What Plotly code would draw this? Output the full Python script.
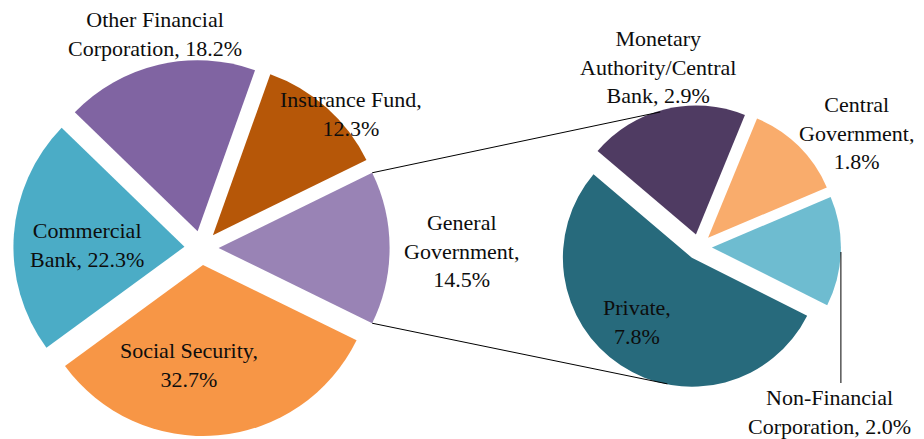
import math
import plotly.graph_objects as go

W, H = 924, 439

# main pie (share of total, %)
main_labels = ["General Government", "Social Security", "Commercial Bank",
               "Other Financial Corporation", "Insurance Fund"]
main_values = [14.5, 32.7, 22.3, 18.2, 12.3]
main_colors = ["#9983B5", "#F79646", "#4BACC6", "#8064A2", "#B65708"]

# breakdown of General Government (%)
sub_labels = ["Non-Financial Corporation", "Private",
              "Monetary Authority/Central Bank", "Central Government"]
sub_values = [2.0, 7.8, 2.9, 1.8]
sub_colors = ["#6EBCD0", "#276A7C", "#4F3B62", "#F9AC6C"]

PULL = 0.1
FONT = "Liberation Serif, Times New Roman, serif"

# pie geometry in pixels: centre and radius
main_cx, main_cy, main_r = 201.5, 248, 171
sub_cx, sub_cy, sub_r = 699, 247, 129


def px(x, y):
    return x / W, 1 - y / H


def domain(cx, cy, r):
    half = r * (1 + PULL)
    x0, y0 = px(cx - half, cy + half)
    x1, y1 = px(cx + half, cy - half)
    return dict(x=[x0, x1], y=[y0, y1])


fig = go.Figure()

# first slice (General Government) centred on 3 o'clock
gg_half = 360 * main_values[0] / sum(main_values) / 2
fig.add_trace(go.Pie(
    labels=main_labels, values=main_values, sort=False,
    direction="clockwise", rotation=90 - gg_half,
    marker=dict(colors=main_colors, line=dict(width=0)),
    pull=[PULL] * len(main_values), textinfo="none", hoverinfo="label+value",
    domain=domain(main_cx, main_cy, main_r), showlegend=False,
))

fig.add_trace(go.Pie(
    labels=sub_labels, values=sub_values, sort=False,
    direction="clockwise", rotation=67,
    marker=dict(colors=sub_colors, line=dict(width=0)),
    pull=[PULL] * len(sub_values), textinfo="none", hoverinfo="label+value",
    domain=domain(sub_cx, sub_cy, sub_r), showlegend=False,
))

# connector lines from the General Government slice to the second pie
a = math.radians(gg_half)
tip_x = main_cx + PULL * main_r
shapes = []
for sign, ang in [(1, 106), (-1, 257)]:
    x0 = tip_x + main_r * math.cos(a)
    y0 = main_cy - sign * main_r * math.sin(a)
    rr = sub_r * (1 + PULL) * 0.99
    x1 = sub_cx + rr * math.cos(math.radians(ang))
    y1 = sub_cy - rr * math.sin(math.radians(ang))
    shapes.append(dict(type="line", xref="paper", yref="paper",
                       x0=px(x0, y0)[0], y0=px(x0, y0)[1],
                       x1=px(x1, y1)[0], y1=px(x1, y1)[1],
                       line=dict(color="black", width=1)))

# leader line for the Non-Financial Corporation label
lx = sub_cx + sub_r * (1 + PULL)
shapes.append(dict(type="line", xref="paper", yref="paper",
                   x0=px(lx, 252)[0], y0=px(lx, 252)[1],
                   x1=px(lx, 383)[0], y1=px(lx, 383)[1],
                   line=dict(color="black", width=1)))

# data labels (text, pixel position)
label_pos = [
    ("Other Financial<br>Corporation, 18.2%", 155, 34),
    ("Insurance Fund,<br>12.3%", 351, 114),
    ("Commercial<br>Bank, 22.3%", 87, 245),
    ("Social Security,<br>32.7%", 189, 365),
    ("General<br>Government,<br>14.5%", 461, 251),
    ("Monetary<br>Authority/Central<br>Bank, 2.9%", 658, 67),
    ("Central<br>Government,<br>1.8%", 856, 133),
    ("Private,<br>7.8%", 637, 322),
    ("Non-Financial<br>Corporation, 2.0%", 829, 412),
]
annotations = []
for text, x, y in label_pos:
    xp, yp = px(x, y)
    annotations.append(dict(text=text, x=xp, y=yp, xref="paper", yref="paper",
                            showarrow=False, xanchor="center", yanchor="middle",
                            align="center",
                            font=dict(family=FONT, size=22, color="#0D0D0D")))

fig.update_layout(
    width=W, height=H,
    margin=dict(l=0, r=0, t=0, b=0),
    paper_bgcolor="white", plot_bgcolor="white",
    shapes=shapes, annotations=annotations,
)

# drop the default body margin so the figure sits at the page corner
fig.write_html("out.html", config={"displayModeBar": False},
               post_script="document.body.style.margin='0';")
